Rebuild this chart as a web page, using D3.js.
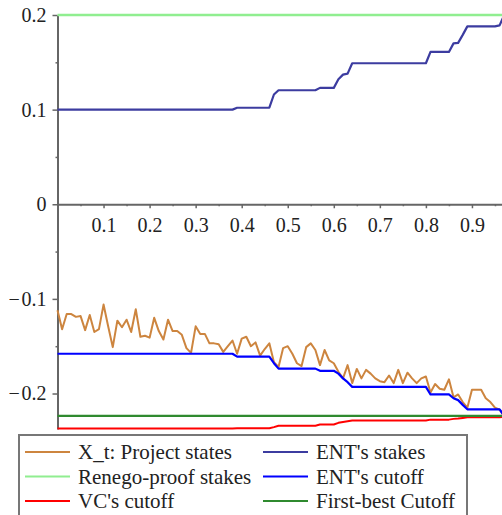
<!DOCTYPE html>
<html><head><meta charset="utf-8">
<script src="https://cdn.jsdelivr.net/npm/d3@7"></script>
<style>
html,body{margin:0;padding:0;background:#fff;overflow:hidden;}
svg{display:block;}
</style></head>
<body>
<svg id="chart" width="502" height="515"></svg>
<script>
// ---- data ----
const times = [0.00,0.01,0.02,0.03,0.04,0.05,0.06,0.07,0.08,0.09,
  0.10,0.11,0.12,0.13,0.14,0.15,0.16,0.17,0.18,0.19,
  0.20,0.21,0.22,0.23,0.24,0.25,0.26,0.27,0.28,0.29,
  0.30,0.31,0.32,0.33,0.34,0.35,0.36,0.37,0.38,0.39,
  0.40,0.41,0.42,0.43,0.44,0.45,0.46,0.47,0.48,0.49,
  0.50,0.51,0.52,0.53,0.54,0.55,0.56,0.57,0.58,0.59,
  0.60,0.61,0.62,0.63,0.64,0.65,0.66,0.67,0.68,0.69,
  0.70,0.71,0.72,0.73,0.74,0.75,0.76,0.77,0.78,0.79,
  0.80,0.81,0.82,0.83,0.84,0.85,0.86,0.87,0.88,0.89,
  0.90,0.91,0.92,0.93,0.94,0.95,0.96,0.97];

const projectStates = [-0.112,-0.132,-0.116,-0.116,-0.119,-0.118,-0.133,-0.117,-0.135,-0.132,
  -0.106,-0.129,-0.151,-0.123,-0.130,-0.122,-0.135,-0.111,-0.140,-0.139,
  -0.141,-0.120,-0.134,-0.143,-0.122,-0.134,-0.134,-0.138,-0.152,-0.157,
  -0.129,-0.137,-0.137,-0.147,-0.147,-0.148,-0.156,-0.150,-0.144,-0.158,
  -0.142,-0.140,-0.150,-0.146,-0.160,-0.153,-0.147,-0.167,-0.172,-0.152,
  -0.150,-0.158,-0.168,-0.171,-0.151,-0.147,-0.154,-0.170,-0.154,-0.165,
  -0.168,-0.177,-0.184,-0.170,-0.189,-0.174,-0.184,-0.175,-0.179,-0.184,
  -0.187,-0.188,-0.181,-0.189,-0.175,-0.189,-0.178,-0.184,-0.189,-0.184,
  -0.182,-0.199,-0.190,-0.195,-0.196,-0.185,-0.204,-0.201,-0.209,-0.215,
  -0.196,-0.196,-0.196,-0.205,-0.209,-0.215,-0.217,-0.224];

const entStakes = [0.100,0.100,0.100,0.100,0.100,0.100,0.100,0.100,0.100,0.100,
  0.100,0.100,0.100,0.100,0.100,0.100,0.100,0.100,0.100,0.100,
  0.100,0.100,0.100,0.100,0.100,0.100,0.100,0.100,0.100,0.100,
  0.100,0.100,0.100,0.100,0.100,0.100,0.100,0.100,0.100,0.102,
  0.102,0.102,0.102,0.102,0.102,0.102,0.102,0.116,0.1205,0.1205,
  0.1205,0.1205,0.1205,0.1205,0.1205,0.1205,0.1205,0.123,0.123,0.123,
  0.123,0.132,0.137,0.138,0.149,0.149,0.149,0.149,0.149,0.149,
  0.149,0.149,0.149,0.149,0.149,0.149,0.149,0.149,0.149,0.149,
  0.149,0.161,0.161,0.161,0.161,0.161,0.170,0.1705,0.179,0.188,
  0.188,0.188,0.188,0.188,0.188,0.188,0.189,0.200];

const entCutoff = [-0.158,-0.158,-0.158,-0.158,-0.158,-0.158,-0.158,-0.158,-0.158,-0.158,
  -0.158,-0.158,-0.158,-0.158,-0.158,-0.158,-0.158,-0.158,-0.158,-0.158,
  -0.158,-0.158,-0.158,-0.158,-0.158,-0.158,-0.158,-0.158,-0.158,-0.158,
  -0.158,-0.158,-0.158,-0.158,-0.158,-0.158,-0.158,-0.158,-0.158,-0.161,
  -0.161,-0.161,-0.161,-0.161,-0.161,-0.161,-0.161,-0.168,-0.1737,-0.1737,
  -0.1737,-0.1737,-0.1737,-0.1737,-0.1737,-0.1737,-0.1737,-0.176,-0.176,-0.176,
  -0.176,-0.179,-0.184,-0.188,-0.193,-0.193,-0.193,-0.193,-0.193,-0.193,
  -0.193,-0.193,-0.193,-0.193,-0.193,-0.193,-0.193,-0.193,-0.193,-0.193,
  -0.193,-0.201,-0.201,-0.201,-0.201,-0.201,-0.205,-0.207,-0.212,-0.2167,
  -0.2167,-0.2167,-0.2167,-0.2167,-0.2167,-0.2167,-0.2167,-0.2236];

const vcCutoff = [-0.237,-0.237,-0.237,-0.237,-0.237,-0.237,-0.237,-0.237,-0.237,-0.237,
  -0.237,-0.237,-0.237,-0.237,-0.237,-0.237,-0.237,-0.237,-0.237,-0.237,
  -0.237,-0.237,-0.237,-0.237,-0.237,-0.237,-0.237,-0.237,-0.237,-0.237,
  -0.237,-0.237,-0.237,-0.237,-0.237,-0.237,-0.237,-0.237,-0.237,-0.2368,
  -0.2368,-0.2368,-0.2368,-0.2368,-0.2368,-0.2368,-0.2368,-0.2355,-0.234,-0.234,
  -0.234,-0.234,-0.234,-0.234,-0.234,-0.234,-0.234,-0.2328,-0.2328,-0.2328,
  -0.2328,-0.231,-0.230,-0.2293,-0.2285,-0.2285,-0.2285,-0.2285,-0.2285,-0.2285,
  -0.2285,-0.2285,-0.2285,-0.2285,-0.2285,-0.2285,-0.2285,-0.2285,-0.2285,-0.2285,
  -0.2285,-0.2276,-0.2276,-0.2276,-0.2276,-0.2276,-0.2268,-0.2265,-0.2258,-0.2250,
  -0.2250,-0.2250,-0.2250,-0.2250,-0.2250,-0.2250,-0.2250,-0.2245];

const renegoProofStake = 0.2;
const firstBestCutoff = -0.2236;

const yMajorTicks = [-0.2,-0.1,0,0.1,0.2];
const yTickLabels = ["\u2212\u200A0.2","\u2212\u200A0.1","0","0.1","0.2"];
const yMinorTicks = [-0.15,-0.05,0.05,0.15];
const xMajorTicks = [0.1,0.2,0.3,0.4,0.5,0.6,0.7,0.8,0.9];
const xTickLabels = ["0.1","0.2","0.3","0.4","0.5","0.6","0.7","0.8","0.9"];
const xMinorTicks = [0.05,0.15,0.25,0.35,0.45,0.55,0.65,0.75,0.85,0.95];

const legendItems = [
  {label:"X_t: Project states", color:"#CD853F"},
  {label:"ENT's stakes", color:"#3c3ca0"},
  {label:"Renego-proof stakes", color:"#90EE90"},
  {label:"ENT's cutoff", color:"#0000FF"},
  {label:"VC's cutoff", color:"#FF0000"},
  {label:"First-best Cutoff", color:"#2f8a2f"}
];

// ---- drawing ----
const svg = d3.select("#chart");
const FONT = "'Liberation Serif','Times New Roman',serif";
const x = d3.scaleLinear().domain([0, 1]).range([57.5, 518]);
const y = d3.scaleLinear().domain([-0.2375, 0.2]).range([429, 15]);
const AX = "#666";

// axes
const yAxis = d3.axisLeft(y).tickValues(yMajorTicks).tickSize(5).tickSizeOuter(0).tickPadding(6)
  .tickFormat((d, i) => yTickLabels[i]);
const gy = svg.append("g").attr("transform", `translate(${x(0)},0)`).call(yAxis);
const yMinor = d3.axisLeft(y).tickValues(yMinorTicks).tickSize(2).tickSizeOuter(0).tickFormat("");
const gym = svg.append("g").attr("transform", `translate(${x(0)},0)`).call(yMinor);
gym.select(".domain").remove();

const xAxis = d3.axisBottom(x).tickValues(xMajorTicks).tickSize(4).tickSizeOuter(0).tickPadding(10)
  .tickFormat((d, i) => xTickLabels[i]);
const gx = svg.append("g").attr("transform", `translate(0,${y(0)})`).call(xAxis);
const xMinor = d3.axisBottom(x).tickValues(xMinorTicks).tickSize(2).tickSizeOuter(0).tickFormat("");
const gxm = svg.append("g").attr("transform", `translate(0,${y(0)})`).call(xMinor);
gxm.select(".domain").remove();

[gy, gym, gx, gxm].forEach(g => {
  g.selectAll(".domain").attr("stroke", AX).attr("stroke-width", 2);
  g.selectAll(".tick line").attr("stroke", AX).attr("stroke-width", 1.5);
  g.selectAll(".tick text").attr("font-family", FONT).attr("font-size", 20).attr("fill", "#222");
});

// series
const idx = d3.range(times.length);
const line = arr => d3.line().x(i => x(times[i])).y(i => y(arr[i]))(idx);

svg.append("path").attr("d", line(projectStates)).attr("fill","none")
  .attr("stroke", legendItems[0].color).attr("stroke-width", 2).attr("stroke-linejoin","round");
svg.append("line").attr("x1", x(times[0])).attr("x2", x(times[times.length-1]))
  .attr("y1", y(renegoProofStake)).attr("y2", y(renegoProofStake))
  .attr("stroke", legendItems[2].color).attr("stroke-width", 2.5);
svg.append("path").attr("d", line(entStakes)).attr("fill","none")
  .attr("stroke", legendItems[1].color).attr("stroke-width", 2.2).attr("stroke-linejoin","round");
svg.append("path").attr("d", line(vcCutoff)).attr("fill","none")
  .attr("stroke", legendItems[4].color).attr("stroke-width", 2).attr("stroke-linejoin","round");
svg.append("line").attr("x1", x(times[0])).attr("x2", x(times[times.length-1]))
  .attr("y1", y(firstBestCutoff)).attr("y2", y(firstBestCutoff))
  .attr("stroke", legendItems[5].color).attr("stroke-width", 2.2);
svg.append("path").attr("d", line(entCutoff)).attr("fill","none")
  .attr("stroke", legendItems[3].color).attr("stroke-width", 2.2).attr("stroke-linejoin","round");

// legend
const lg = svg.append("g");
lg.append("rect").attr("x", 19).attr("y", 435).attr("width", 448).attr("height", 100)
  .attr("fill", "#fff").attr("stroke", "#777").attr("stroke-width", 2);
const colX = [25, 263];
const rowY = [452, 476.5, 501];
legendItems.forEach((d, i) => {
  const c = i % 2, r = Math.floor(i / 2);
  lg.append("line").attr("x1", colX[c]).attr("x2", colX[c] + 45)
    .attr("y1", rowY[r]).attr("y2", rowY[r]).attr("stroke", d.color).attr("stroke-width", 2);
  lg.append("text").attr("x", colX[c] + 53).attr("y", rowY[r] + 7)
    .attr("font-family", FONT).attr("font-size", 21).attr("fill", "#222").text(d.label);
});
</script>
</body></html>
